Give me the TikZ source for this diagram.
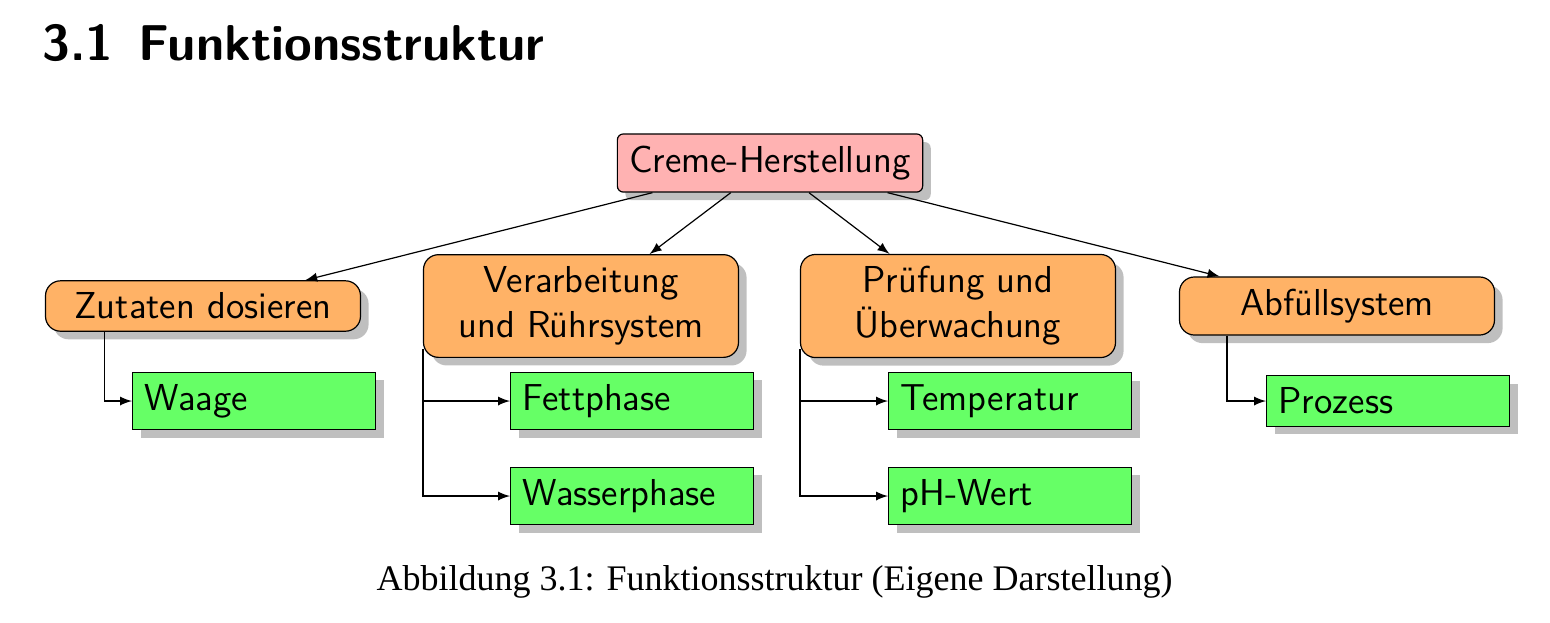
\documentclass[tikz,border=0pt]{standalone}
\usepackage{fontspec}
\newfontfamily\captionfont{Liberation Serif}
\usetikzlibrary{shadows}

\begin{document}
\begin{tikzpicture}[x=0.33333pt,y=-0.33333pt,>=latex]
        \tikzstyle{every node} = [font=\fontsize{12.5}{15}\selectfont\sffamily]
        \tikzstyle{box} = [draw, inner sep=4pt, drop shadow={shadow xshift=2.7pt, shadow yshift=-2.7pt}]
        \tikzstyle{rootbox} = [box, fill=red!30, rounded corners=2pt]
        \tikzstyle{groupbox} = [box, fill=orange!60, rounded corners=5pt, text width=97pt, align=center]
        \tikzstyle{leafbox} = [box, fill=green!60, text width=73pt, align=left, anchor=west]
        \useasboundingbox (0,0) rectangle (1550,622);

        \node[anchor=base west, inner sep=0pt, font=\fontsize{16.8}{20}\selectfont\sffamily\bfseries] (title) at (42,60) {3.1\enskip Funktionsstruktur};

        \node[rootbox] (creme) at (770,163) {Creme-Herstellung};
        \node[groupbox] (zutaten) at (203,306) {Zutaten dosieren};
        \node[groupbox] (verarb) at (581,306) {Verarbeitung\\und Rührsystem};
        \node[groupbox] (pruef) at (958,306) {Prüfung und\\Überwachung};
        \node[groupbox] (abfuell) at (1337,306) {Abfüllsystem};

        \node[leafbox] (waage) at (132,401) {Waage};
        \node[leafbox] (fett) at (510,401) {Fettphase};
        \node[leafbox] (wasser) at (510,496) {Wasserphase};
        \node[leafbox] (temp) at (888,401) {Temperatur};
        \node[leafbox] (ph) at (888,496) {pH-Wert};
        \node[leafbox] (prozess) at (1266,401) {Prozess};

        \foreach \to in {zutaten, verarb, pruef, abfuell}
            \draw[->] (creme) -- (\to);

        \draw[->] ([xshift=20pt]zutaten.south west) |- (waage);
        \foreach \from/\to in {verarb/fett, verarb/wasser, pruef/temp, pruef/ph}
            \draw[->] ([yshift=3pt]\from.south west) |- (\to);
        \draw[->] ([xshift=16pt]abfuell.south west) |- (prozess);

        \node[anchor=base, font=\captionfont\fontsize{12}{14}\selectfont] (caption) at (774.5,590) {Abbildung 3.1: Funktionsstruktur (Eigene Darstellung)};
      \end{tikzpicture}
\end{document}
